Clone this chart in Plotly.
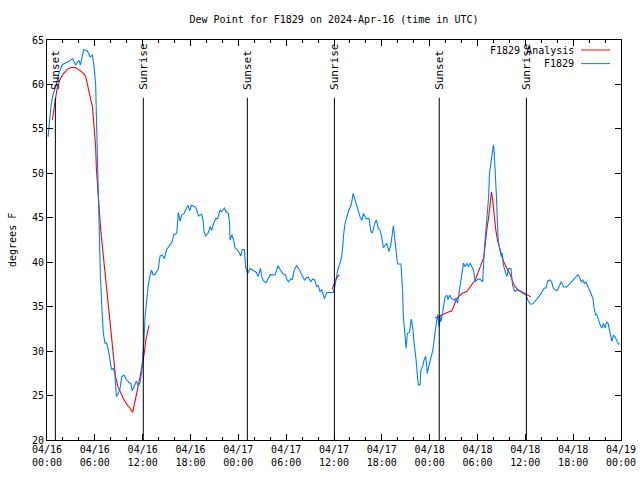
import pandas as pd
import plotly.graph_objects as go

# ---------------- data ----------------
obs_hours = [0.13, 0.38, 0.54, 0.8, 1.1, 1.5, 1.9, 2.3, 2.76, 3.2, 3.6, 4.0, 4.2, 4.6, 5.06, 5.4, 5.7, 5.9,
             6.1, 6.2, 6.3, 6.45, 6.57, 6.7, 6.9, 7.07, 7.28, 7.49, 7.7, 7.9, 8.1, 8.3, 8.5, 8.7, 8.95,
             9.16, 9.37, 9.66, 10.0, 10.3, 10.5, 10.7, 11.0, 11.2, 11.46, 11.67, 11.88, 12.0, 12.17, 12.3,
             12.5, 12.7, 12.9, 13.1, 13.3, 13.55, 13.97, 14.18, 14.47, 14.72, 15.0, 15.4, 15.7, 15.9, 16.27,
             16.48, 16.7, 16.9, 17.2, 17.5, 17.7, 17.9, 18.1, 18.57, 18.78, 19.0, 19.4, 19.6, 19.7, 19.9,
             20.2, 20.45, 20.66, 20.9, 21.2, 21.4, 21.7, 21.9, 22.25, 22.46, 22.75, 22.9, 22.96, 23.2, 23.4,
             23.6, 23.9, 24.1, 24.3, 24.5, 24.76, 24.9, 25.2, 25.47, 25.9, 26.2, 26.5, 26.77, 26.93, 27.15,
             27.5, 27.8, 28.0, 28.6, 29.0, 29.3, 29.6, 29.9, 30.07, 30.28, 30.57, 30.8, 31.0, 31.3, 31.7,
             31.95, 32.3, 32.6, 32.8, 33.1, 33.3, 33.6, 33.8, 34.0, 34.25, 34.46, 34.67, 34.8, 35.1, 35.5,
             35.9, 36.1, 36.3, 36.5, 36.76, 36.96, 37.1, 37.2, 37.4, 37.6, 37.8, 38.0, 38.2, 38.4, 38.65,
             38.86, 39.06, 39.27, 39.5, 39.7, 40.0, 40.4, 40.6, 40.8, 41.07, 41.3, 41.57, 41.78, 42.0, 42.2,
             42.4, 42.62, 42.9, 43.15, 43.45, 43.65, 43.87, 43.97, 44.4, 44.6, 44.7, 44.9, 45.05, 45.2,
             45.46, 45.7, 45.9, 46.05, 46.3, 46.5, 46.6, 46.8, 46.9, 47.1, 47.3, 47.5, 47.7, 47.97, 48.2,
             48.4, 48.6, 48.77, 48.9, 49.0, 49.2, 49.3, 49.4, 49.6, 49.8, 49.94, 50.15, 50.3, 50.5, 50.77,
             51.06, 51.27, 51.5, 51.7, 51.95, 52.24, 52.45, 52.66, 52.87, 53.07, 53.3, 53.5, 53.7, 54.04,
             54.3, 54.65, 54.87, 55.04, 55.2, 55.4, 55.5, 55.7, 55.87, 56.0, 56.1, 56.25, 56.38, 56.5, 56.6,
             56.8, 57.0, 57.1, 57.25, 57.5, 57.7, 57.9, 58.2, 58.4, 58.7, 59.0, 59.3, 59.7, 60.1, 60.3,
             60.6, 60.9, 61.2, 61.5, 61.86, 62.1, 62.4, 62.6, 62.8, 63.1, 63.3, 63.5, 63.7, 64.0, 64.3,
             64.5, 64.8, 65.1, 65.4, 65.7, 66.0, 66.3, 66.6, 66.8, 67.0, 67.2, 67.4, 67.6, 67.8, 68.0,
             68.3, 68.5, 68.6, 68.8, 68.97, 69.2, 69.4, 69.6, 69.8, 70.0, 70.2, 70.4, 70.64, 70.85, 71.05,
             71.26, 71.5, 71.7, 71.9]
obs_dewpt = [54.1, 56.0, 57.9, 59.0, 59.75, 61.25, 62.2, 62.4, 62.6, 62.9, 62.2, 62.7, 62.2, 63.9, 63.8, 63.1, 63.3, 62.0,
             60.1, 56.4, 52.6, 48.1, 43.25, 38.4, 34.6, 32.0, 30.9, 30.9, 30.1, 29.0, 27.9, 28.1, 27.5, 24.9, 25.25,
             25.8, 27.1, 27.3, 26.75, 26.45, 26.4, 25.55, 26.2, 26.6, 26.1, 26.45, 27.7, 29.0, 31.25, 33.9,
             36.1, 37.4, 38.4, 39.1, 38.6, 38.6, 39.3, 40.7, 40.8, 40.4, 41.4, 41.9, 42.3, 43.1, 43.25,
             45.6, 44.6, 45.3, 45.5, 46.1, 46.4, 45.8, 46.4, 46.25, 45.9, 45.2, 45.4, 44.6, 43.4, 42.95,
             43.25, 44.0, 43.6, 44.4, 44.9, 44.9, 45.9, 45.7, 46.1, 45.7, 45.5, 44.4, 42.5, 43.1, 42.5,
             41.6, 41.4, 41.1, 40.7, 41.4, 41.45, 39.5, 38.75, 39.3, 39.1, 38.9, 38.4, 39.3, 38.4, 37.9,
             37.7, 38.2, 38.6, 38.56, 39.6, 39.1, 38.7, 38.6, 38.1, 37.8, 38.1, 38.1, 39.1, 39.6, 39.1,
             38.6, 38.0, 38.3, 38.3, 37.8, 38.1, 38.0, 37.3, 37.4, 36.7, 36.9, 36.4, 35.9, 36.6, 36.6,
             36.6, 37.25, 38.2, 39.3, 39.9, 40.6, 41.75, 43.1, 44.4, 45.1, 45.7, 46.1, 46.6, 47.75, 47.0,
             46.25, 45.5, 45.1, 44.7, 45.5, 44.9, 44.9, 43.6, 43.25, 44.2, 44.75, 43.8, 43.6, 42.7, 41.6,
             41.9, 42.1, 41.2, 42.1, 44.1, 42.5, 41.2, 39.8, 39.8, 36.9, 33.9, 31.6, 30.3, 32.0,
             32.1, 33.6, 32.4, 30.9, 29.0, 26.75, 26.2, 26.2, 27.9, 28.2, 29.0, 29.4, 27.5, 28.6, 29.4,
             30.1, 31.6, 32.75, 33.7, 34.1, 32.75, 34.1, 33.3, 34.1, 35.4, 36.1, 36.3, 35.8, 36.3, 35.9,
             35.75, 35.9, 35.4, 36.5, 38.4, 39.9, 39.5, 39.9, 39.5, 39.9, 39.5, 39.1, 37.8, 38.1,
             38.1, 37.8, 41.6, 43.6, 45.5, 47.4, 50.0, 51.5, 52.4, 53.2, 52.25, 50.0, 47.4, 44.4, 42.5,
             41.4, 40.6, 41.0, 39.7, 38.9, 38.4, 39.3, 39.3, 37.4, 36.7, 36.9, 36.7, 36.5, 36.3, 35.75,
             35.3, 35.3, 35.6, 35.9, 36.3, 36.7, 37.1, 37.1, 37.9, 38.0, 37.8, 37.1, 36.9, 36.8, 37.4,
             37.8, 37.25, 37.2, 37.4, 37.7, 38.0, 38.2, 38.6, 38.3, 37.8, 38.0, 37.6, 37.8, 37.4, 36.9,
             36.5, 35.9, 35.0, 34.1, 34.1, 33.3, 32.9, 32.6, 33.1, 32.6, 33.3, 33.1, 32.2, 31.1, 31.8,
             31.6, 31.1, 30.8, 30.8]

# analysis series (None marks a gap between analysis periods)
ana_hours = [0.67, 0.88, 1.09, 1.3, 1.7, 2.1, 2.55, 2.97, 3.6, 4.0, 4.6, 4.85, 5.06, 5.27, 5.5, 5.7, 5.9,
             6.1, 6.2, 6.4, 6.57, 6.74, 6.95, 7.15, 7.36, 7.57, 7.78, 8.0, 8.2, 8.4, 8.6, 8.9, 9.25, 9.67,
             10.1, 10.4, 10.75, 11.0, 11.3, 11.67, 11.97, 12.2, 12.4, 12.7, 12.8,
             24.0,
             35.76, 36.0, 36.26, 36.5, 36.68,
             42.0,
             48.7, 49.1, 49.5, 49.94, 50.35, 50.77, 51.0, 51.2, 51.4, 51.7, 52.1, 52.66, 53.07, 53.4, 53.7,
             54.04, 54.3, 54.6, 54.8, 54.95, 55.16, 55.4, 55.6, 55.75, 55.9, 56.1, 56.3, 56.5, 56.8, 57.0,
             57.25, 57.7, 58.1, 58.5, 58.7, 59.1, 59.5, 59.97, 60.4, 60.7]
ana_dewpt = [56.0, 57.1, 58.4, 59.75, 60.7, 61.25, 61.7, 61.9, 61.9, 61.6, 61.25, 60.9, 59.9, 59.2, 58.25, 57.5, 55.6,
             53.0, 50.4, 47.75, 45.5, 43.6, 41.75, 39.9, 38.0, 36.1, 34.25, 32.4, 30.5, 28.6, 27.1, 26.0, 25.25, 24.5,
             23.9, 23.6, 23.1, 24.1, 25.6, 27.1, 28.6, 29.75, 31.25, 32.4, 32.9,
             None,
             36.95, 37.55, 38.1, 38.45, 38.56,
             None,
             33.77, 33.8, 34.06, 34.25, 34.4, 34.5, 35.0, 35.6, 35.9, 36.2, 36.5, 36.7, 37.25, 37.6, 38.0,
             38.75, 39.5, 40.1, 40.6, 42.1, 43.6, 45.1, 47.0, 47.9, 47.0, 45.1, 43.6, 42.5, 41.4, 40.8,
             40.1, 39.3, 38.6, 37.6, 37.25, 36.9, 36.7, 36.4, 36.25, 36.1]

event_hours = [1.05, 12.08, 25.13, 36.05, 49.2, 60.13]
event_labels = ["Sunset", "Sunrise", "Sunset", "Sunrise", "Sunset", "Sunrise"]

tick_hours = [0, 6, 12, 18, 24, 30, 36, 42, 48, 54, 60, 66, 72]
tick_labels = ["04/16<br>00:00", "04/16<br>06:00", "04/16<br>12:00", "04/16<br>18:00",
               "04/17<br>00:00", "04/17<br>06:00", "04/17<br>12:00", "04/17<br>18:00",
               "04/18<br>00:00", "04/18<br>06:00", "04/18<br>12:00", "04/18<br>18:00",
               "04/19<br>00:00"]

base = pd.Timestamp("2024-04-16 00:00")
def to_time(hours):
    return [base + pd.Timedelta(hours=h) for h in hours]

FONT = "DejaVu Sans Mono"
FS = 10
RED = "#ff0000"
BLUE = "#0080ff"

fig = go.Figure()
fig.add_trace(go.Scatter(x=to_time(ana_hours), y=ana_dewpt, mode="lines", name="F1829 Analysis",
                         line=dict(color=RED, width=1.1), connectgaps=False, showlegend=False))
fig.add_trace(go.Scatter(x=to_time(obs_hours), y=obs_dewpt, mode="lines", name="F1829",
                         line=dict(color=BLUE, width=1.1), showlegend=False))

# sunrise / sunset markers
for h, lab in zip(event_hours, event_labels):
    t = base + pd.Timedelta(hours=h)
    fig.add_shape(type="line", xref="x", yref="y", x0=t, x1=t, y0=20, y1=58.5,
                  line=dict(color="black", width=1))
    fig.add_annotation(x=t, y=59.2, xref="x", yref="y", text=lab, textangle=-90,
                       showarrow=False, xanchor="center", yanchor="bottom",
                       font=dict(family=FONT, size=FS + 1, color="black"))

# legend drawn to mimic gnuplot layout (text right, sample line on the right)
leg = [("F1829 Analysis", RED, 0.975), ("F1829", BLUE, 0.941)]
for text, col, yy in leg:
    fig.add_annotation(x=0.921, y=yy, xref="paper", yref="paper", text=text, showarrow=False,
                       xanchor="right", yanchor="middle", font=dict(family=FONT, size=FS, color="black"))
    fig.add_shape(type="line", xref="paper", yref="paper", x0=0.9303, x1=0.981, y0=yy, y1=yy,
                  line=dict(color=col, width=1))

fig.add_annotation(x=-0.061, y=0.5, xref="paper", yref="paper", text="degrees F", textangle=-90,
                   showarrow=False, xanchor="center", yanchor="middle",
                   font=dict(family=FONT, size=FS, color="black"))

fig.update_layout(
    width=640, height=480,
    margin=dict(l=47, r=19, t=40, b=40, autoexpand=False),
    paper_bgcolor="white", plot_bgcolor="white",
    title=dict(text="Dew Point for F1829 on 2024-Apr-16 (time in UTC)", x=0.5, xref="paper",
               y=0.96, yanchor="middle", font=dict(family=FONT, size=FS, color="black")),
    font=dict(family=FONT, size=FS, color="black"),
)
fig.update_xaxes(
    range=[base, base + pd.Timedelta(hours=72)], automargin=False,
    tickmode="array", tickvals=to_time(tick_hours), ticktext=tick_labels,
    ticks="inside", ticklen=6, tickcolor="black",
    showline=True, linecolor="black", linewidth=1, mirror="ticks",
    showgrid=False, zeroline=False,
    minor=dict(tickmode="linear", tick0=base, dtick=2 * 3600 * 1000, ticks="inside", ticklen=3,
               tickcolor="black", showgrid=False),
    tickfont=dict(family=FONT, size=FS, color="black"),
)
fig.update_yaxes(
    range=[20, 65], tickmode="linear", tick0=20, dtick=5, automargin=False,
    ticks="inside", ticklen=6, tickcolor="black",
    showline=True, linecolor="black", linewidth=1, mirror="ticks",
    showgrid=False, zeroline=False,
    tickfont=dict(family=FONT, size=FS, color="black"),
)

fig.write_html("out.html", config={"displayModeBar": False},
               post_script="document.body.style.margin='0';document.body.style.padding='0';")
